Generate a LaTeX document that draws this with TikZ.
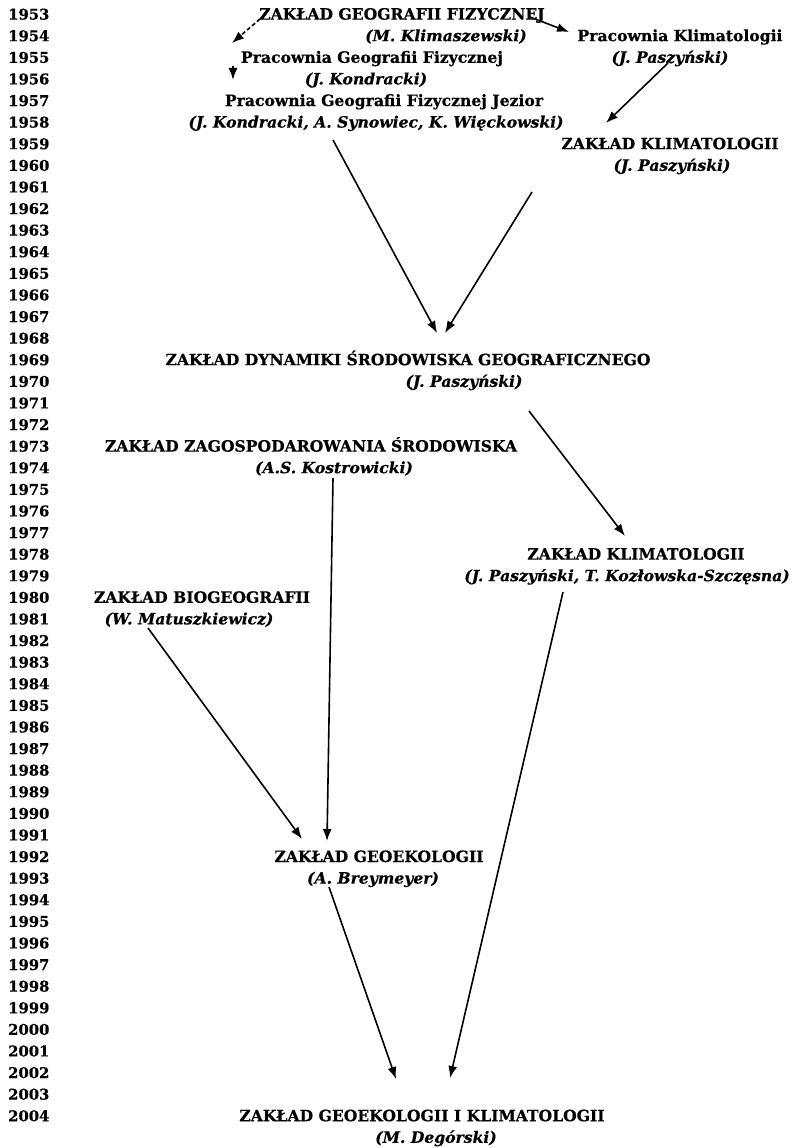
\documentclass[tikz,border=0pt]{standalone}
\usepackage{fontspec}
\setmainfont{DejaVu Serif}[BoldFeatures={FakeBold=0.5},BoldItalicFeatures={FakeBold=0.5}]
\usetikzlibrary{arrows.meta}
\tikzset{
  lbl/.style={font=\fontsize{15.6}{18}\selectfont\bfseries, inner sep=0pt, anchor=base},
  per/.style={font=\fontsize{15.6}{18}\selectfont\bfseries\itshape, inner sep=0pt, anchor=base},
  yr/.style={font=\fontsize{14.8}{18}\selectfont\bfseries, inner sep=0pt, anchor=base west},
  conn/.style={line width=1.6pt, -{Latex[length=12pt,width=9pt]}},
  dconn/.style={conn, dash pattern=on 4pt off 2.5pt}
}
\begin{document}
\begin{tikzpicture}[x=1pt,y=-1pt]
\useasboundingbox[fill=white] (0,0) rectangle (792,1148);
% years
\foreach \n in {0,...,51}{
  \pgfmathtruncatemacro{\yy}{1953+\n}
  \node[yr] (y\yy) at (8,{14+21.6*\n+5.6}) {\yy};
}
% labels
\node[lbl] (zgf)  at (402,{14+21.6*0+5.6}) {ZAKŁAD GEOGRAFII FIZYCZNEJ};
\node[per] (zgfp) at (446,{14+21.6*1+5.6}) {(M. Klimaszewski)};
\node[lbl] (pgf)  at (372,{14+21.6*2+5.6}) {Pracownia Geografii Fizycznej};
\node[per] (pgfp) at (366,{14+21.6*3+5.6}) {(J. Kondracki)};
\node[lbl] (pgfj) at (384,{14+21.6*4+5.6}) {Pracownia Geografii Fizycznej Jezior};
\node[per] (pgfjp) at (376,{14+21.6*5+5.6}) {(J. Kondracki, A. Synowiec, K. Więckowski)};
\node[lbl] (pk)   at (680,{14+21.6*1+5.6}) {Pracownia Klimatologii};
\node[per] (pkp)  at (670,{14+21.6*2+5.6}) {(J. Paszyński)};
\node[lbl] (zk)   at (670,{14+21.6*6+5.6}) {ZAKŁAD KLIMATOLOGII};
\node[per] (zkp)  at (672,{14+21.6*7+5.6}) {(J. Paszyński)};
\node[lbl] (zdsg) at (408,{14+21.6*16+5.6}) {ZAKŁAD DYNAMIKI ŚRODOWISKA GEOGRAFICZNEGO};
\node[per] (zdsgp) at (464,{14+21.6*17+5.6}) {(J. Paszyński)};
\node[lbl] (zzs)  at (311,{14+21.6*20+5.6}) {ZAKŁAD ZAGOSPODAROWANIA ŚRODOWISKA};
\node[per] (zzsp) at (334,{14+21.6*21+5.6}) {(A.S. Kostrowicki)};
\node[lbl] (zkb)  at (636,{14+21.6*25+5.6}) {ZAKŁAD KLIMATOLOGII};
\node[per] (zkbp) at (627,{14+21.6*26+5.6}) {(J. Paszyński, T. Kozłowska-Szczęsna)};
\node[lbl] (zb)   at (202,{14+21.6*27+5.6}) {ZAKŁAD BIOGEOGRAFII};
\node[per] (zbp)  at (189,{14+21.6*28+5.6}) {(W. Matuszkiewicz)};
\node[lbl] (zg)   at (379,{14+21.6*39+5.6}) {ZAKŁAD GEOEKOLOGII};
\node[per] (zgp)  at (373,{14+21.6*40+5.6}) {(A. Breymeyer)};
\node[lbl] (zgk)  at (422,{14+21.6*51+5.6}) {ZAKŁAD GEOEKOLOGII I KLIMATOLOGII};
\node[per] (zgkp) at (436,{14+21.6*52+5.6}) {(M. Degórski)};
% connector end points
\coordinate (a1s) at (260,19);  \coordinate (a1e) at (232,43);
\coordinate (a2s) at (530,17);  \coordinate (a2e) at (569,32);
\coordinate (a3s) at (233,66);  \coordinate (a3e) at (233,80);
\coordinate (a4s) at (668,63);  \coordinate (a4e) at (606,123);
\coordinate (a5s) at (333,140); \coordinate (a5e) at (437,333);
\coordinate (a6s) at (532,192); \coordinate (a6e) at (445,333);
\coordinate (a7s) at (529,411); \coordinate (a7e) at (625,536);
\coordinate (a8s) at (333,478); \coordinate (a8e) at (327,841);
\coordinate (a9s) at (148,628); \coordinate (a9e) at (302,839);
\coordinate (a10s) at (329,887); \coordinate (a10e) at (396,1079);
\coordinate (a11s) at (563,592); \coordinate (a11e) at (450,1078);
% connectors
\draw[dconn] (a1s) -- (a1e);
\draw[conn] (a2s) -- (a2e);
\draw[conn] (a3s) -- (a3e);
\draw[conn] (a4s) -- (a4e);
\draw[conn] (a5s) -- (a5e);
\draw[conn] (a6s) -- (a6e);
\draw[conn] (a7s) -- (a7e);
\draw[conn] (a8s) -- (a8e);
\draw[conn] (a9s) -- (a9e);
\draw[conn] (a10s) -- (a10e);
\draw[conn] (a11s) -- (a11e);
\end{tikzpicture}
\end{document}
